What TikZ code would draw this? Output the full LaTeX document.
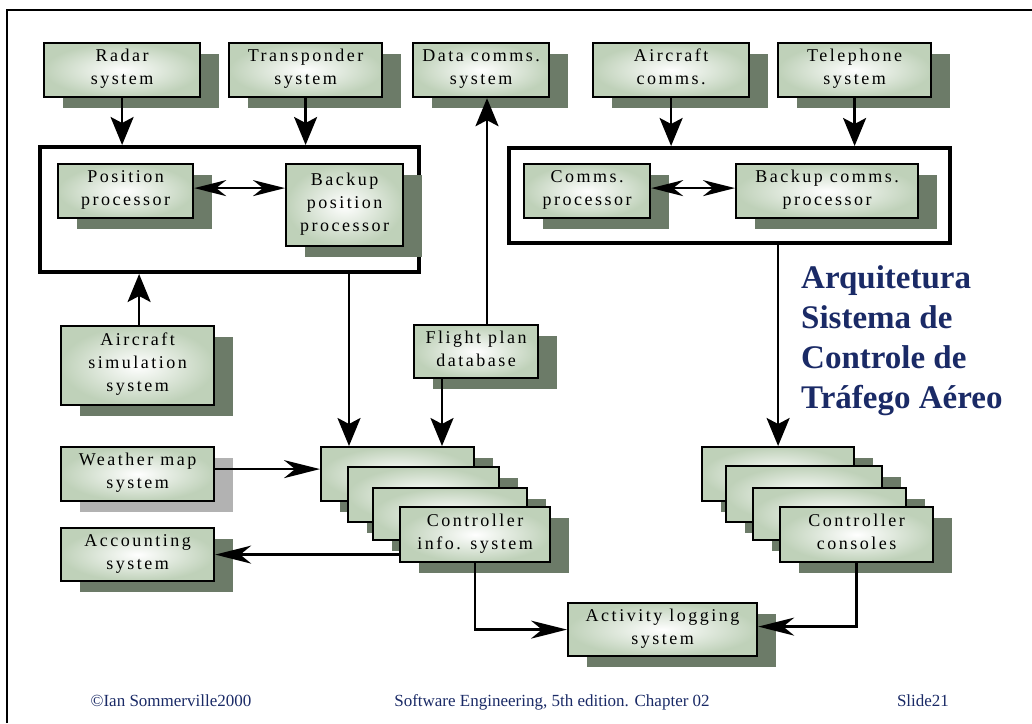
\documentclass[tikz,border=0pt]{standalone}
\usepackage{fontspec}
\setmainfont{Liberation Serif}
\usetikzlibrary{arrows.meta,shadows,calc}

\definecolor{boxgreen}{HTML}{BFD1B9}
\definecolor{shadowgreen}{HTML}{6C7B68}
\definecolor{shadowgrey}{HTML}{B2B2B2}
\definecolor{navy}{HTML}{1A2A66}

\newcommand\boxfont{\fontsize{18}{23}\selectfont\addfontfeature{LetterSpace=14}}

\tikzset{
  sysbox/.style={draw=black, line width=2.2pt, inner color=white, outer color=boxgreen,
    align=center, font=\boxfont, anchor=north west, inner sep=0pt, text depth=6pt,
    general shadow={fill=shadowgreen, shadow xshift=19pt, shadow yshift=-11pt}},
  greybox/.style={sysbox, general shadow={fill=shadowgrey, shadow xshift=19pt, shadow yshift=-11pt}},
  groupbox/.style={draw=black, line width=4pt, anchor=north west, inner sep=0pt},
  varrow/.style={line width=2.6pt, -{Stealth[length=28pt,width=23pt,inset=6pt]}},
  harrow/.style={line width=2.6pt, -{Stealth[length=36pt,width=18pt,inset=11pt]}},
  darrow/.style={line width=2.6pt, {Stealth[length=32pt,width=16pt,inset=10pt]}-{Stealth[length=32pt,width=16pt,inset=10pt]}},
  footer/.style={font=\fontsize{17}{20}\selectfont, text=navy, anchor=base, inner sep=0pt},
}

% sized box: #1 style, #2 name, (#3,#4) top-left, (#5,#6) bottom-right, #7 text
\newcommand\sysnode[7]{%
  \node[#1, minimum width={(#5-#3)*1pt}, minimum height={(#6-#4)*1pt}] (#2) at (#3,#4) {#7};}

\begin{document}
\begin{tikzpicture}[x=1pt,y=-1pt]
  \useasboundingbox (0,0) rectangle (1032,723);

  % slide frame
  \draw[line width=2.5pt] (7,723) -- (7,10) -- (1032,10);

  % external systems along the top
  \sysnode{sysbox}{radar}{43}{42}{199}{96}{Radar\\system}
  \sysnode{sysbox}{transp}{228}{42}{381}{96}{Transponder\\system}
  \sysnode{sysbox}{datacomms}{412}{42}{548}{96}{Data comms.\\system}
  \sysnode{sysbox}{aircomms}{592}{42}{748}{96}{Aircraft\\comms.}
  \sysnode{sysbox}{tel}{777}{42}{930}{96}{Telephone\\system}

  % processor groups
  \sysnode{groupbox}{leftgroup}{38}{145}{417}{270}{}
  \sysnode{groupbox}{rightgroup}{507}{146}{948}{241}{}
  \sysnode{sysbox}{pos}{57}{163}{192}{217}{Position\\processor}
  \sysnode{sysbox}{bpos}{285}{163}{402}{245}{Backup\\position\\processor}
  \sysnode{sysbox}{comms}{523}{163}{649}{217}{Comms.\\processor}
  \sysnode{sysbox}{bcomms}{735}{163}{917}{217}{Backup comms.\\processor}

  % left column
  \sysnode{sysbox}{acsim}{60}{325}{213}{404}{Aircraft\\simulation\\system}
  \sysnode{greybox}{weather}{60}{446}{213}{500}{Weather map\\system}
  \sysnode{sysbox}{acct}{60}{527}{213}{580}{Accounting\\system}
  \sysnode{sysbox}{fpd}{413}{324}{537}{377}{Flight plan\\database}

  % controller info systems (stack)
  \sysnode{sysbox}{cis1}{320}{446}{473}{500}{}
  \sysnode{sysbox}{cis2}{347}{466}{498}{521}{}
  \sysnode{sysbox}{cis3}{372}{487}{526}{539}{}
  \sysnode{sysbox}{cis4}{399}{506}{549}{561}{Controller\\info. system}

  % controller consoles (stack)
  \sysnode{sysbox}{cc1}{701}{446}{853}{500}{}
  \sysnode{sysbox}{cc2}{725}{465}{881}{521}{}
  \sysnode{sysbox}{cc3}{752}{487}{905}{539}{}
  \sysnode{sysbox}{cc4}{779}{506}{932}{561}{Controller\\consoles}

  \sysnode{sysbox}{act}{567}{602}{756}{655}{Activity logging\\system}

  % connectors
  \draw[varrow] (radar.south) -- (radar.south |- leftgroup.north);
  \draw[varrow] (transp.south) -- (transp.south |- leftgroup.north);
  \draw[varrow] (aircomms.south) -- (aircomms.south |- rightgroup.north);
  \draw[varrow] (tel.south) -- (tel.south |- rightgroup.north);
  \draw[darrow] ([yshift=3pt]pos.east) -- ([yshift=3pt]pos.east -| bpos.west);
  \draw[darrow] ([yshift=3pt]comms.east) -- ([yshift=3pt]comms.east -| bcomms.west);
  \draw[varrow] ([xshift=1.5pt]acsim.north) -- ([xshift=1.5pt]acsim.north |- leftgroup.south);
  \draw[varrow] ([xshift=29pt]cis1.north west |- leftgroup.south) -- ([xshift=29pt]cis1.north west);
  \draw[varrow] ([xshift=29pt]fpd.south west) -- ([xshift=29pt]fpd.south west |- cis1.north);
  \draw[varrow] ([xshift=74pt]fpd.north west) -- ([xshift=74pt]fpd.north west |- datacomms.south);
  \draw[harrow] ([yshift=5pt]weather.east) -- ([yshift=5pt]weather.east -| cis1.west);
  \draw[harrow] (cis4.west |- acct.east) -- (acct.east);
  \draw[harrow] (cis4.south) |- (act.west);
  \draw[harrow] (cc4.south) |- ([yshift=3pt]act.east);
  \draw[varrow] (cc1.north |- rightgroup.south) -- (cc1.north);

  % title
  \node[anchor=north west, inner sep=0pt, align=left, text=navy,
        font=\fontsize{33}{40}\selectfont\bfseries] (title) at (801,265)
        {Arquitetura\\Sistema de\\Controle de\\Tráfego Aéreo};

  % footer
  \node[footer] (copy) at (171,706) {©Ian Sommerville2000};
  \node[footer] (book) at (552,706) {Software Engineering, 5th edition. Chapter 02};
  \node[footer] (slide) at (923,706) {Slide21};
\end{tikzpicture}
\end{document}
